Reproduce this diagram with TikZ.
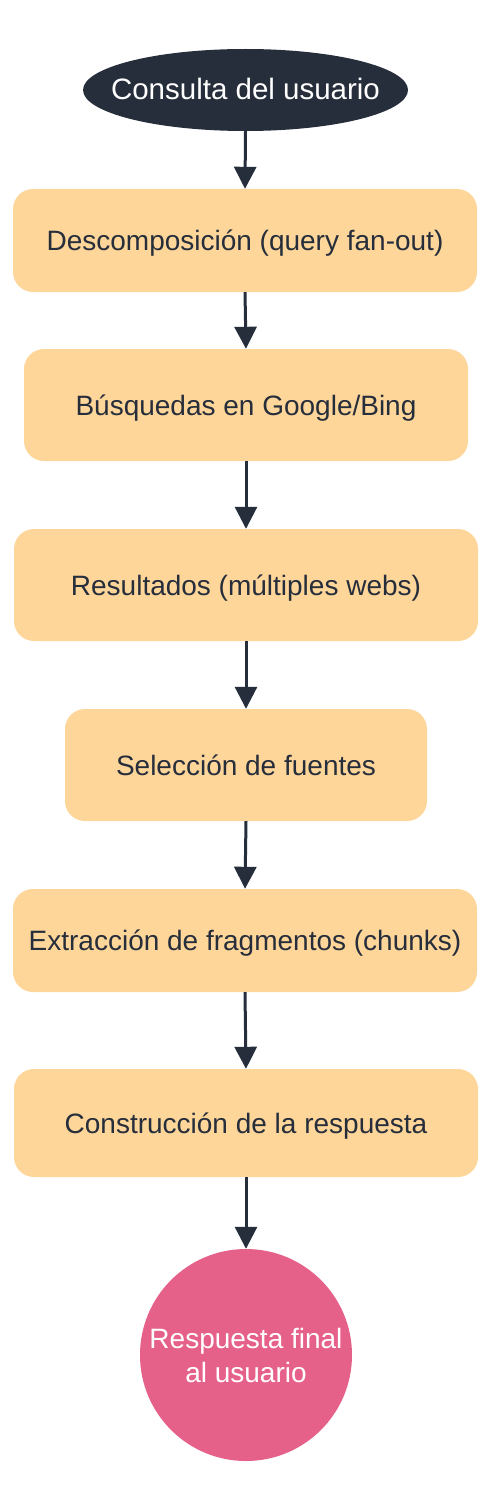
\documentclass[tikz,border=0pt]{standalone}
\usepackage{fontspec}
\setmainfont{Liberation Sans}
\usetikzlibrary{arrows.meta,shapes.geometric}
\definecolor{navy}{HTML}{262D3B}
\definecolor{peach}{HTML}{FED699}
\definecolor{rose}{HTML}{E6618A}
\begin{document}
\begin{tikzpicture}[x=1pt,y=-1pt,
  stepbox/.style={rectangle,rounded corners=20pt,fill=peach,draw=none,inner sep=0pt,
    text=navy,font=\fontsize{28}{34}\selectfont,align=center,text height=20pt,text depth=0pt},
  flow/.style={draw=navy,line width=3pt,-{Triangle[width=22pt,length=22pt]}}]
\useasboundingbox (0,0) rectangle (492,1490);
\node[ellipse,fill=navy,text=white,inner sep=0pt,minimum width=325pt,minimum height=82pt,
  text height=20pt,text depth=0pt,
  font=\fontsize{29.5}{34}\selectfont] (start) at (245.5,90) {\makebox[0pt]{Consulta del usuario}};
\node[stepbox,minimum width=464pt,minimum height=103pt] (b1) at (245,240.5) {Descomposición (query fan-out)};
\node[stepbox,minimum width=444pt,minimum height=112pt] (b2) at (246,405) {Búsquedas en Google/Bing};
\node[stepbox,minimum width=464pt,minimum height=112pt] (b3) at (246,585) {Resultados (múltiples webs)};
\node[stepbox,minimum width=362pt,minimum height=112pt] (b4) at (246,765) {Selección de fuentes};
\node[stepbox,minimum width=464pt,minimum height=103pt] (b5) at (245,940.5) {Extracción de fragmentos (chunks)};
\node[stepbox,minimum width=464pt,minimum height=108pt] (b6) at (246,1123) {Construcción de la respuesta};
\node[circle,fill=rose,text=white,inner sep=0pt,minimum size=212pt,align=center,
  font=\fontsize{28}{34}\selectfont] (end) at (246,1355) {Respuesta final\\al usuario};
\draw[flow] (start.south) -- (b1.north);
\draw[flow] (b1.south) -- (b2.north);
\draw[flow] (b2.south) -- (b3.north);
\draw[flow] (b3.south) -- (b4.north);
\draw[flow] (b4.south) -- (b5.north);
\draw[flow] (b5.south) -- (b6.north);
\draw[flow] (b6.south) -- (end.north);
\end{tikzpicture}
\end{document}
